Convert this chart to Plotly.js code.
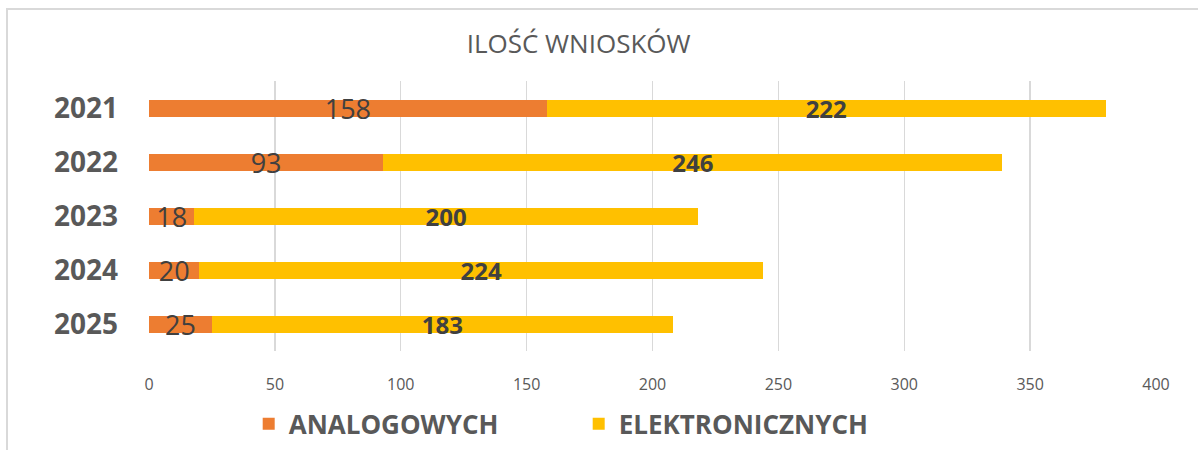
<!DOCTYPE html>
<html>
<head>
<meta charset="utf-8">
<script src="https://cdn.plot.ly/plotly-3.0.1.min.js"></script>
<style>
  html, body { margin: 0; padding: 0; background: #ffffff; overflow: hidden; }
  #frame { position: absolute; left: 6px; top: 8px; width: 1300px; height: 600px; border: 2px solid #D9D9D9; box-sizing: border-box; }
  #chart { position: absolute; left: 0; top: 0; width: 1198px; height: 450px; }
</style>
</head>
<body>
<div id="frame"></div>
<div id="chart"></div>
<script>
const years = ['2021', '2022', '2023', '2024', '2025'];
const analogowych = [158, 93, 18, 20, 25];
const elektronicznych = [222, 246, 200, 224, 183];
const seriesNames = ['ANALOGOWYCH', 'ELEKTRONICZNYCH'];
const xTicks = [0, 50, 100, 150, 200, 250, 300, 350, 400];
const chartTitle = 'ILOŚĆ WNIOSKÓW';

const FONT = '"Open Sans", "Noto Sans", "DejaVu Sans", sans-serif';

const traces = [
  {
    type: 'bar', orientation: 'h', name: seriesNames[0],
    y: years, x: analogowych, text: analogowych.map(String),
    marker: { color: '#ED7D31' },
    textposition: 'inside', insidetextanchor: 'middle', constraintext: 'none', textangle: 0,
    textfont: { family: FONT, size: 27, color: '#404040' },
    hoverinfo: 'skip'
  },
  {
    type: 'bar', orientation: 'h', name: seriesNames[1],
    y: years, x: elektronicznych, text: elektronicznych.map(String),
    marker: { color: '#FFC000' },
    textposition: 'inside', insidetextanchor: 'middle', constraintext: 'none', textangle: 0,
    textfont: { family: FONT, size: 24, color: '#404040', weight: 'bold' },
    hoverinfo: 'skip'
  }
];

const layout = {
  width: 1198, height: 450,
  paper_bgcolor: 'rgba(0,0,0,0)', plot_bgcolor: 'rgba(0,0,0,0)',
  margin: { l: 149, r: 42, t: 81, b: 99, pad: 0, autoexpand: false },
  barmode: 'stack', bargap: 0.685,
  font: { family: FONT, color: '#595959' },
  title: {
    text: chartTitle, xref: 'container', x: 0.483, xanchor: 'center',
    yref: 'container', y: 0.902, yanchor: 'middle',
    font: { family: FONT, size: 26, color: '#595959' }
  },
  xaxis: {
    range: [0, 400], tickvals: xTicks, ticktext: xTicks.map(String),
    showgrid: true, gridcolor: '#D9D9D9', gridwidth: 1.3,
    zeroline: false, showline: false, ticks: '', automargin: false,
    ticklabelstandoff: 22,
    tickfont: { family: FONT, size: 16, color: '#595959' },
    fixedrange: true
  },
  yaxis: {
    type: 'category', categoryorder: 'array', categoryarray: years,
    autorange: 'reversed', showgrid: false, zeroline: false, showline: false, ticks: '',
    automargin: false, ticklabelstandoff: 30,
    tickfont: { family: FONT, size: 28, color: '#595959', weight: 'bold' },
    fixedrange: true
  },
  showlegend: true,
  legend: {
    orientation: 'h', x: 0.099, xanchor: 'left',
    y: -0.27, yanchor: 'middle',
    font: { family: FONT, size: 26, color: '#595959', weight: 'bold' },
    itemwidth: 30, entrywidth: 285, entrywidthmode: 'pixels', traceorder: 'normal'
  },
  hovermode: false
};

Plotly.newPlot('chart', traces, layout, { displayModeBar: false, staticPlot: true });
</script>
</body>
</html>
